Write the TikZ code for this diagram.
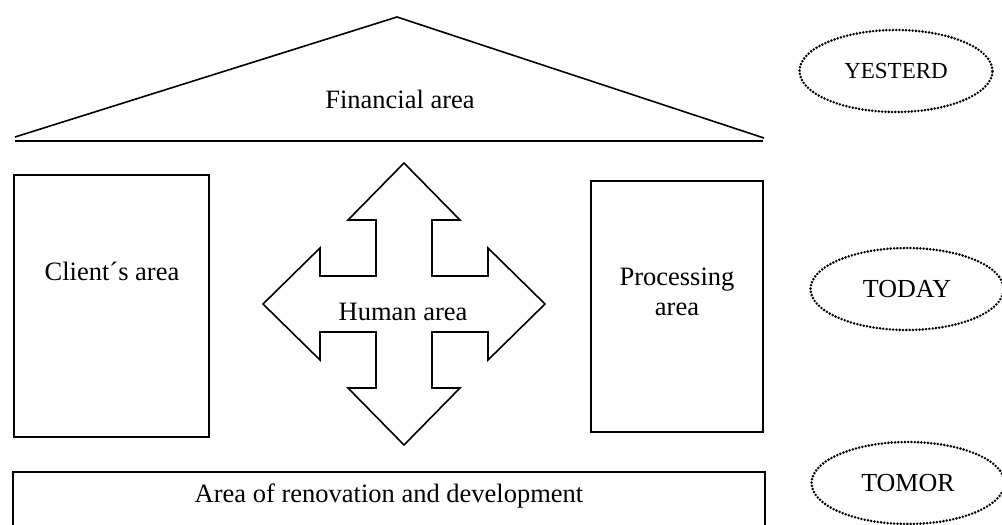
\documentclass[tikz,border=0pt]{standalone}
\usepackage{fontspec}
\setmainfont{Liberation Serif}
\usetikzlibrary{shapes.geometric}
\begin{document}
\begin{tikzpicture}[x=1pt,y=-1pt,
  lbl/.style={font=\fontsize{26.5}{30}\selectfont, inner sep=0pt, align=center},
  boxarea/.style={draw, line width=1.8pt, inner sep=0pt},
  era/.style={draw, ellipse, line width=2.8pt, dash pattern=on 0pt off 3.3pt, line cap=round,
    inner sep=0pt, minimum width=193pt, minimum height=82pt,
    font=\fontsize{26}{30}\selectfont},
  outline/.style={draw, line width=1.6pt, line join=miter}]
\clip (0,0) rectangle (1002,525);
\fill[white] (0,0) rectangle (1002,525);
% roof
\coordinate (rl) at (15,137);
\coordinate (ra) at (397,17);
\coordinate (rr) at (764,138);
\coordinate (bl) at (15,141);
\coordinate (br) at (763,141);
\draw[outline] (rl) -- (ra) -- (rr);
\draw[line width=2.4pt] (bl) -- (br);
\node[lbl] (fin) at (400,99) {Financial area};
% client area
\node[boxarea, minimum width=195pt, minimum height=262pt] (client) at (111.5,306) {};
\node[lbl] (clienttxt) at (112,271) {Client´s area};
% processing area
\node[boxarea, minimum width=172pt, minimum height=251pt] (proc) at (677,306.5) {};
\node[lbl] (proctxt) at (677,292) {Processing\\area};
% cross arrow
\coordinate (c) at (404,304);
\draw[outline] ([shift={(0,-141)}]c) -- ([shift={(56,-84)}]c) -- ([shift={(28,-84)}]c)
  -- ([shift={(28,-28)}]c) -- ([shift={(84,-28)}]c) -- ([shift={(84,-56)}]c)
  -- ([shift={(141,0)}]c) -- ([shift={(84,56)}]c) -- ([shift={(84,28)}]c)
  -- ([shift={(28,28)}]c) -- ([shift={(28,84)}]c) -- ([shift={(56,84)}]c)
  -- ([shift={(0,141)}]c) -- ([shift={(-56,84)}]c) -- ([shift={(-28,84)}]c)
  -- ([shift={(-28,28)}]c) -- ([shift={(-84,28)}]c) -- ([shift={(-84,56)}]c)
  -- ([shift={(-141,0)}]c) -- ([shift={(-84,-56)}]c) -- ([shift={(-84,-28)}]c)
  -- ([shift={(-28,-28)}]c) -- ([shift={(-28,-84)}]c) -- ([shift={(-56,-84)}]c) -- cycle;
\node[lbl] (human) at (403,312) {Human area};
% renovation area
\node[boxarea, minimum width=752pt, minimum height=80pt] (renov) at (389,512) {};
\node[lbl] (renovtxt) at (389,496) {Area of renovation and development};
% time ellipses
\node[era, font=\fontsize{23}{27}\selectfont] (yest) at (896,71) {YESTERD};
\node[era] (today) at (907,289) {TODAY};
\node[era] (tomor) at (908,483) {TOMOR};
\end{tikzpicture}
\end{document}
